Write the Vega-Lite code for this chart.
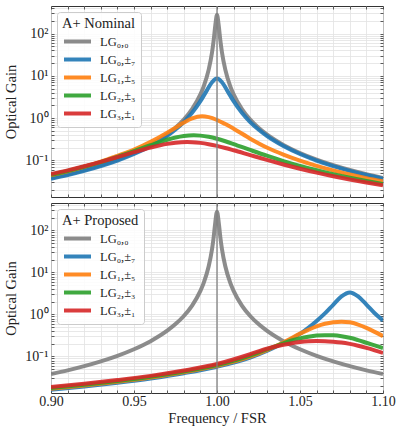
{
  "$schema": "https://vega.github.io/schema/vega-lite/v6.json",
  "padding": {"left": 3, "top": 0, "right": 5, "bottom": 2},
  "background": "white",
  "spacing": 6,
  "bounds": "flush",
  "config": {
    "font": "Liberation Serif",
    "view": {"stroke": "#333333", "strokeWidth": 1},
    "axis": {
      "labelFont": "Liberation Serif", "labelFontSize": 14, "labelColor": "#222222",
      "titleFont": "Liberation Serif", "titleFontSize": 14.5, "titleFontWeight": "normal", "titleColor": "#222222",
      "gridColor": "#e2e2e2", "gridWidth": 0.8, "tickColor": "#333333", "tickWidth": 0.8, "domain": false,
      "labelFlush": false, "labelOverlap": false
    },
    "legend": {
      "orient": "top-left", "offset": 6,
      "titleFont": "Liberation Serif", "titleFontSize": 14.5, "titleFontWeight": "normal", "titleColor": "#222222", "titlePadding": 2,
      "labelFont": "Liberation Serif", "labelFontSize": 12.5, "labelColor": "#222222", "labelOffset": 22,
      "symbolType": "M-1,0H3.5", "symbolSize": 144, "symbolStrokeWidth": 4, "symbolOpacity": 0.9,
      "rowPadding": 2, "padding": 5,
      "fillColor": "rgba(255,255,255,0.85)", "strokeColor": "#cccccc", "cornerRadius": 3
    }
  },
  "datasets": {
    "nom": [
      {"m":"LG₀,₀","f":0.9,"g":0.0381},{"m":"LG₀,₀","f":0.91,"g":0.0467},{"m":"LG₀,₀","f":0.92,"g":0.0588},{"m":"LG₀,₀","f":0.93,"g":0.0764},{"m":"LG₀,₀","f":0.94,"g":0.1035},{"m":"LG₀,₀","f":0.95,"g":0.1485},{"m":"LG₀,₀","f":0.96,"g":0.231},{"m":"LG₀,₀","f":0.97,"g":0.41},{"m":"LG₀,₀","f":0.975,"g":0.589},{"m":"LG₀,₀","f":0.98,"g":0.919},{"m":"LG₀,₀","f":0.985,"g":1.629},{"m":"LG₀,₀","f":0.99,"g":3.64},{"m":"LG₀,₀","f":0.992,"g":5.64},{"m":"LG₀,₀","f":0.995,"g":14.0},{"m":"LG₀,₀","f":0.997,"g":35.7},{"m":"LG₀,₀","f":0.998,"g":69.3},{"m":"LG₀,₀","f":0.999,"g":159},{"m":"LG₀,₀","f":1.0,"g":280},{"m":"LG₀,₀","f":1.001,"g":159},{"m":"LG₀,₀","f":1.002,"g":69.3},{"m":"LG₀,₀","f":1.003,"g":35.7},{"m":"LG₀,₀","f":1.005,"g":14.0},{"m":"LG₀,₀","f":1.008,"g":5.64},{"m":"LG₀,₀","f":1.01,"g":3.64},{"m":"LG₀,₀","f":1.015,"g":1.629},{"m":"LG₀,₀","f":1.02,"g":0.919},{"m":"LG₀,₀","f":1.025,"g":0.589},{"m":"LG₀,₀","f":1.03,"g":0.41},{"m":"LG₀,₀","f":1.04,"g":0.231},{"m":"LG₀,₀","f":1.05,"g":0.1485},{"m":"LG₀,₀","f":1.06,"g":0.1035},{"m":"LG₀,₀","f":1.07,"g":0.0764},{"m":"LG₀,₀","f":1.08,"g":0.0588},{"m":"LG₀,₀","f":1.09,"g":0.0467},{"m":"LG₀,₀","f":1.1,"g":0.0381},
      {"m":"LG₀,±₇","f":0.9,"g":0.0365},{"m":"LG₀,±₇","f":0.91,"g":0.0447},{"m":"LG₀,±₇","f":0.92,"g":0.0562},{"m":"LG₀,±₇","f":0.93,"g":0.0728},{"m":"LG₀,±₇","f":0.94,"g":0.0984},{"m":"LG₀,±₇","f":0.95,"g":0.1405},{"m":"LG₀,±₇","f":0.96,"g":0.217},{"m":"LG₀,±₇","f":0.97,"g":0.377},{"m":"LG₀,±₇","f":0.975,"g":0.533},{"m":"LG₀,±₇","f":0.98,"g":0.804},{"m":"LG₀,±₇","f":0.985,"g":1.331},{"m":"LG₀,±₇","f":0.99,"g":2.51},{"m":"LG₀,±₇","f":0.994,"g":4.59},{"m":"LG₀,±₇","f":0.997,"g":7.06},{"m":"LG₀,±₇","f":1.0,"g":8.6},{"m":"LG₀,±₇","f":1.003,"g":7.06},{"m":"LG₀,±₇","f":1.006,"g":4.59},{"m":"LG₀,±₇","f":1.01,"g":2.51},{"m":"LG₀,±₇","f":1.015,"g":1.331},{"m":"LG₀,±₇","f":1.02,"g":0.804},{"m":"LG₀,±₇","f":1.025,"g":0.533},{"m":"LG₀,±₇","f":1.03,"g":0.377},{"m":"LG₀,±₇","f":1.04,"g":0.217},{"m":"LG₀,±₇","f":1.05,"g":0.1405},{"m":"LG₀,±₇","f":1.06,"g":0.0984},{"m":"LG₀,±₇","f":1.07,"g":0.0728},{"m":"LG₀,±₇","f":1.08,"g":0.0562},{"m":"LG₀,±₇","f":1.09,"g":0.0447},{"m":"LG₀,±₇","f":1.1,"g":0.0365},
      {"m":"LG₁,±₅","f":0.9,"g":0.0443},{"m":"LG₁,±₅","f":0.91,"g":0.055},{"m":"LG₁,±₅","f":0.92,"g":0.0702},{"m":"LG₁,±₅","f":0.93,"g":0.0926},{"m":"LG₁,±₅","f":0.94,"g":0.1274},{"m":"LG₁,±₅","f":0.95,"g":0.178},{"m":"LG₁,±₅","f":0.96,"g":0.273},{"m":"LG₁,±₅","f":0.97,"g":0.45},{"m":"LG₁,±₅","f":0.975,"g":0.59},{"m":"LG₁,±₅","f":0.98,"g":0.78},{"m":"LG₁,±₅","f":0.985,"g":0.98},{"m":"LG₁,±₅","f":0.991,"g":1.1},{"m":"LG₁,±₅","f":0.995,"g":1.05},{"m":"LG₁,±₅","f":1.0,"g":0.9},{"m":"LG₁,±₅","f":1.005,"g":0.72},{"m":"LG₁,±₅","f":1.01,"g":0.56},{"m":"LG₁,±₅","f":1.02,"g":0.325},{"m":"LG₁,±₅","f":1.03,"g":0.2007},{"m":"LG₁,±₅","f":1.04,"g":0.1366},{"m":"LG₁,±₅","f":1.05,"g":0.0983},{"m":"LG₁,±₅","f":1.06,"g":0.0739},{"m":"LG₁,±₅","f":1.07,"g":0.0576},{"m":"LG₁,±₅","f":1.08,"g":0.0461},{"m":"LG₁,±₅","f":1.09,"g":0.0378},{"m":"LG₁,±₅","f":1.1,"g":0.0316},
      {"m":"LG₂,±₃","f":0.9,"g":0.045},{"m":"LG₂,±₃","f":0.91,"g":0.0556},{"m":"LG₂,±₃","f":0.92,"g":0.0701},{"m":"LG₂,±₃","f":0.93,"g":0.0908},{"m":"LG₂,±₃","f":0.94,"g":0.1207},{"m":"LG₂,±₃","f":0.95,"g":0.1645},{"m":"LG₂,±₃","f":0.96,"g":0.2272},{"m":"LG₂,±₃","f":0.97,"g":0.3067},{"m":"LG₂,±₃","f":0.975,"g":0.3456},{"m":"LG₂,±₃","f":0.98,"g":0.3756},{"m":"LG₂,±₃","f":0.986,"g":0.39},{"m":"LG₂,±₃","f":0.99,"g":0.3835},{"m":"LG₂,±₃","f":0.995,"g":0.3591},{"m":"LG₂,±₃","f":1.0,"g":0.3229},{"m":"LG₂,±₃","f":1.005,"g":0.282},{"m":"LG₂,±₃","f":1.01,"g":0.2421},{"m":"LG₂,±₃","f":1.02,"g":0.1754},{"m":"LG₂,±₃","f":1.03,"g":0.1282},{"m":"LG₂,±₃","f":1.04,"g":0.0959},{"m":"LG₂,±₃","f":1.05,"g":0.0737},{"m":"LG₂,±₃","f":1.06,"g":0.0581},{"m":"LG₂,±₃","f":1.07,"g":0.0469},{"m":"LG₂,±₃","f":1.08,"g":0.0386},{"m":"LG₂,±₃","f":1.09,"g":0.0323},{"m":"LG₂,±₃","f":1.1,"g":0.0274},
      {"m":"LG₃,±₁","f":0.9,"g":0.047},{"m":"LG₃,±₁","f":0.91,"g":0.0577},{"m":"LG₃,±₁","f":0.92,"g":0.0722},{"m":"LG₃,±₁","f":0.93,"g":0.092},{"m":"LG₃,±₁","f":0.94,"g":0.1192},{"m":"LG₃,±₁","f":0.95,"g":0.1555},{"m":"LG₃,±₁","f":0.96,"g":0.2002},{"m":"LG₃,±₁","f":0.97,"g":0.2446},{"m":"LG₃,±₁","f":0.975,"g":0.2608},{"m":"LG₃,±₁","f":0.982,"g":0.27},{"m":"LG₃,±₁","f":0.985,"g":0.2683},{"m":"LG₃,±₁","f":0.99,"g":0.2581},{"m":"LG₃,±₁","f":0.995,"g":0.2407},{"m":"LG₃,±₁","f":1.0,"g":0.2189},{"m":"LG₃,±₁","f":1.005,"g":0.1955},{"m":"LG₃,±₁","f":1.01,"g":0.1726},{"m":"LG₃,±₁","f":1.02,"g":0.1325},{"m":"LG₃,±₁","f":1.03,"g":0.1019},{"m":"LG₃,±₁","f":1.04,"g":0.0794},{"m":"LG₃,±₁","f":1.05,"g":0.063},{"m":"LG₃,±₁","f":1.06,"g":0.0509},{"m":"LG₃,±₁","f":1.07,"g":0.0419},{"m":"LG₃,±₁","f":1.08,"g":0.035},{"m":"LG₃,±₁","f":1.09,"g":0.0297},{"m":"LG₃,±₁","f":1.1,"g":0.0255}
    ],
    "prop": [
      {"m":"LG₀,₀","f":0.9,"g":0.0381},{"m":"LG₀,₀","f":0.91,"g":0.0467},{"m":"LG₀,₀","f":0.92,"g":0.0588},{"m":"LG₀,₀","f":0.93,"g":0.0764},{"m":"LG₀,₀","f":0.94,"g":0.1035},{"m":"LG₀,₀","f":0.95,"g":0.1485},{"m":"LG₀,₀","f":0.96,"g":0.231},{"m":"LG₀,₀","f":0.97,"g":0.41},{"m":"LG₀,₀","f":0.975,"g":0.589},{"m":"LG₀,₀","f":0.98,"g":0.919},{"m":"LG₀,₀","f":0.985,"g":1.629},{"m":"LG₀,₀","f":0.99,"g":3.64},{"m":"LG₀,₀","f":0.992,"g":5.64},{"m":"LG₀,₀","f":0.995,"g":14.0},{"m":"LG₀,₀","f":0.997,"g":35.7},{"m":"LG₀,₀","f":0.998,"g":69.3},{"m":"LG₀,₀","f":0.999,"g":159},{"m":"LG₀,₀","f":1.0,"g":280},{"m":"LG₀,₀","f":1.001,"g":159},{"m":"LG₀,₀","f":1.002,"g":69.3},{"m":"LG₀,₀","f":1.003,"g":35.7},{"m":"LG₀,₀","f":1.005,"g":14.0},{"m":"LG₀,₀","f":1.008,"g":5.64},{"m":"LG₀,₀","f":1.01,"g":3.64},{"m":"LG₀,₀","f":1.015,"g":1.629},{"m":"LG₀,₀","f":1.02,"g":0.919},{"m":"LG₀,₀","f":1.025,"g":0.589},{"m":"LG₀,₀","f":1.03,"g":0.41},{"m":"LG₀,₀","f":1.04,"g":0.231},{"m":"LG₀,₀","f":1.05,"g":0.1485},{"m":"LG₀,₀","f":1.06,"g":0.1035},{"m":"LG₀,₀","f":1.07,"g":0.0764},{"m":"LG₀,₀","f":1.08,"g":0.0588},{"m":"LG₀,₀","f":1.09,"g":0.0467},{"m":"LG₀,₀","f":1.1,"g":0.0381},
      {"m":"LG₀,±₇","f":0.9,"g":0.0162},{"m":"LG₀,±₇","f":0.92,"g":0.0193},{"m":"LG₀,±₇","f":0.94,"g":0.0237},{"m":"LG₀,±₇","f":0.96,"g":0.03},{"m":"LG₀,±₇","f":0.98,"g":0.04},{"m":"LG₀,±₇","f":1.0,"g":0.057},{"m":"LG₀,±₇","f":1.02,"g":0.094},{"m":"LG₀,±₇","f":1.03,"g":0.135},{"m":"LG₀,±₇","f":1.04,"g":0.21},{"m":"LG₀,±₇","f":1.045,"g":0.265},{"m":"LG₀,±₇","f":1.05,"g":0.345},{"m":"LG₀,±₇","f":1.055,"g":0.48},{"m":"LG₀,±₇","f":1.06,"g":0.7},{"m":"LG₀,±₇","f":1.065,"g":1.06},{"m":"LG₀,±₇","f":1.07,"g":1.7},{"m":"LG₀,±₇","f":1.075,"g":2.7},{"m":"LG₀,±₇","f":1.08,"g":3.35},{"m":"LG₀,±₇","f":1.085,"g":2.7},{"m":"LG₀,±₇","f":1.09,"g":1.72},{"m":"LG₀,±₇","f":1.095,"g":1.07},{"m":"LG₀,±₇","f":1.1,"g":0.72},
      {"m":"LG₁,±₅","f":0.9,"g":0.017},{"m":"LG₁,±₅","f":0.92,"g":0.0203},{"m":"LG₁,±₅","f":0.94,"g":0.0249},{"m":"LG₁,±₅","f":0.96,"g":0.0315},{"m":"LG₁,±₅","f":0.98,"g":0.042},{"m":"LG₁,±₅","f":1.0,"g":0.06},{"m":"LG₁,±₅","f":1.02,"g":0.099},{"m":"LG₁,±₅","f":1.03,"g":0.142},{"m":"LG₁,±₅","f":1.04,"g":0.215},{"m":"LG₁,±₅","f":1.045,"g":0.275},{"m":"LG₁,±₅","f":1.05,"g":0.35},{"m":"LG₁,±₅","f":1.055,"g":0.43},{"m":"LG₁,±₅","f":1.06,"g":0.52},{"m":"LG₁,±₅","f":1.065,"g":0.6},{"m":"LG₁,±₅","f":1.07,"g":0.655},{"m":"LG₁,±₅","f":1.075,"g":0.675},{"m":"LG₁,±₅","f":1.08,"g":0.65},{"m":"LG₁,±₅","f":1.085,"g":0.575},{"m":"LG₁,±₅","f":1.09,"g":0.48},{"m":"LG₁,±₅","f":1.095,"g":0.385},{"m":"LG₁,±₅","f":1.1,"g":0.305},
      {"m":"LG₂,±₃","f":0.9,"g":0.0177},{"m":"LG₂,±₃","f":0.92,"g":0.0211},{"m":"LG₂,±₃","f":0.94,"g":0.0259},{"m":"LG₂,±₃","f":0.96,"g":0.0328},{"m":"LG₂,±₃","f":0.98,"g":0.044},{"m":"LG₂,±₃","f":1.0,"g":0.0625},{"m":"LG₂,±₃","f":1.02,"g":0.105},{"m":"LG₂,±₃","f":1.03,"g":0.148},{"m":"LG₂,±₃","f":1.04,"g":0.205},{"m":"LG₂,±₃","f":1.045,"g":0.24},{"m":"LG₂,±₃","f":1.05,"g":0.27},{"m":"LG₂,±₃","f":1.055,"g":0.295},{"m":"LG₂,±₃","f":1.06,"g":0.315},{"m":"LG₂,±₃","f":1.065,"g":0.322},{"m":"LG₂,±₃","f":1.07,"g":0.318},{"m":"LG₂,±₃","f":1.075,"g":0.303},{"m":"LG₂,±₃","f":1.08,"g":0.278},{"m":"LG₂,±₃","f":1.085,"g":0.245},{"m":"LG₂,±₃","f":1.09,"g":0.212},{"m":"LG₂,±₃","f":1.095,"g":0.183},{"m":"LG₂,±₃","f":1.1,"g":0.158},
      {"m":"LG₃,±₁","f":0.9,"g":0.0188},{"m":"LG₃,±₁","f":0.92,"g":0.0224},{"m":"LG₃,±₁","f":0.94,"g":0.0274},{"m":"LG₃,±₁","f":0.96,"g":0.0345},{"m":"LG₃,±₁","f":0.98,"g":0.0462},{"m":"LG₃,±₁","f":1.0,"g":0.066},{"m":"LG₃,±₁","f":1.02,"g":0.113},{"m":"LG₃,±₁","f":1.03,"g":0.153},{"m":"LG₃,±₁","f":1.04,"g":0.19},{"m":"LG₃,±₁","f":1.045,"g":0.207},{"m":"LG₃,±₁","f":1.05,"g":0.22},{"m":"LG₃,±₁","f":1.055,"g":0.229},{"m":"LG₃,±₁","f":1.06,"g":0.232},{"m":"LG₃,±₁","f":1.065,"g":0.231},{"m":"LG₃,±₁","f":1.07,"g":0.225},{"m":"LG₃,±₁","f":1.075,"g":0.215},{"m":"LG₃,±₁","f":1.08,"g":0.199},{"m":"LG₃,±₁","f":1.085,"g":0.18},{"m":"LG₃,±₁","f":1.09,"g":0.16},{"m":"LG₃,±₁","f":1.095,"g":0.14},{"m":"LG₃,±₁","f":1.1,"g":0.121}
    ]
  },
  "resolve": {"scale": {"color": "independent", "x": "independent", "y": "independent"}, "legend": {"color": "independent"}},
  "vconcat": [
    {
      "width": 332, "height": 191,
      "layer": [
        {
          "data": {"name": "nom"},
          "mark": {"type": "line", "interpolate": "monotone", "strokeWidth": 4, "opacity": 0.9, "clip": true},
          "encoding": {
            "x": {"field": "f", "type": "quantitative", "scale": {"domain": [0.9, 1.1], "nice": false, "zero": false},
                  "axis": {"orient": "bottom", "values": [0.9,0.91,0.92,0.93,0.94,0.95,0.96,0.97,0.98,0.99,1.0,1.01,1.02,1.03,1.04,1.05,1.06,1.07,1.08,1.09,1.1], "labels": false, "title": null, "grid": true, "tickSize": -3, "minExtent": 0, "maxExtent": 0}},
            "y": {"field": "g", "type": "quantitative", "scale": {"type": "log", "domain": [0.0135, 450], "nice": false},
                  "axis": {"orient": "left", "values": [0.02,0.03,0.04,0.05,0.06,0.07,0.08,0.09,0.1,0.2,0.3,0.4,0.5,0.6,0.7,0.8,0.9,1,2,3,4,5,6,7,8,9,10,20,30,40,50,60,70,80,90,100,200,300,400],
                           "labelExpr": "datum.value == 100 ? '10²' : datum.value == 10 ? '10¹' : datum.value == 1 ? '10⁰' : datum.value == 0.1 ? '10⁻¹' : ''",
                           "grid": true, "tickSize": -3, "labelPadding": 6, "title": "Optical Gain", "titlePadding": 6}},
            "color": {"field": "m", "type": "nominal",
                      "scale": {"domain": ["LG₀,₀","LG₀,±₇","LG₁,±₅","LG₂,±₃","LG₃,±₁"], "range": ["#7f7f7f","#1f77b4","#ff7f0e","#2ca02c","#d62728"]},
                      "legend": {"title": "A+ Nominal"}}
          }
        },
        {
          "data": {"values": [{}]},
          "mark": {"type": "rule", "color": "#808080", "strokeWidth": 1.3},
          "encoding": {"x": {"datum": 1.0, "type": "quantitative", "axis": null}}
        },
        {
          "data": {"name": "nom"},
          "mark": {"type": "point", "opacity": 0},
          "encoding": {
            "x": {"field": "f", "type": "quantitative", "axis": {"orient": "top", "values": [0.9,0.91,0.92,0.93,0.94,0.95,0.96,0.97,0.98,0.99,1.0,1.01,1.02,1.03,1.04,1.05,1.06,1.07,1.08,1.09,1.1], "labels": false, "title": null, "grid": false, "tickSize": -3, "minExtent": 0, "maxExtent": 0}},
            "y": {"field": "g", "type": "quantitative", "axis": {"orient": "right", "values": [0.02,0.03,0.04,0.05,0.06,0.07,0.08,0.09,0.1,0.2,0.3,0.4,0.5,0.6,0.7,0.8,0.9,1,2,3,4,5,6,7,8,9,10,20,30,40,50,60,70,80,90,100,200,300,400], "labels": false, "title": null, "grid": false, "tickSize": -3, "minExtent": 0, "maxExtent": 0}}
          }
        }
      ],
      "resolve": {"axis": {"x": "independent", "y": "independent"}}
    },
    {
      "width": 332, "height": 190,
      "layer": [
        {
          "data": {"name": "prop"},
          "mark": {"type": "line", "interpolate": "monotone", "strokeWidth": 4, "opacity": 0.9, "clip": true},
          "encoding": {
            "x": {"field": "f", "type": "quantitative", "scale": {"domain": [0.9, 1.1], "nice": false, "zero": false},
                  "axis": {"orient": "bottom", "values": [0.9,0.91,0.92,0.93,0.94,0.95,0.96,0.97,0.98,0.99,1.0,1.01,1.02,1.03,1.04,1.05,1.06,1.07,1.08,1.09,1.1],
                           "labelExpr": "round(datum.value*100) % 5 == 0 ? format(datum.value, '.2f') : ''",
                           "title": "Frequency / FSR", "grid": true, "tickSize": -3, "labelPadding": 4, "titlePadding": 3}},
            "y": {"field": "g", "type": "quantitative", "scale": {"type": "log", "domain": [0.0135, 450], "nice": false},
                  "axis": {"orient": "left", "values": [0.02,0.03,0.04,0.05,0.06,0.07,0.08,0.09,0.1,0.2,0.3,0.4,0.5,0.6,0.7,0.8,0.9,1,2,3,4,5,6,7,8,9,10,20,30,40,50,60,70,80,90,100,200,300,400],
                           "labelExpr": "datum.value == 100 ? '10²' : datum.value == 10 ? '10¹' : datum.value == 1 ? '10⁰' : datum.value == 0.1 ? '10⁻¹' : ''",
                           "grid": true, "tickSize": -3, "labelPadding": 6, "title": "Optical Gain", "titlePadding": 6}},
            "color": {"field": "m", "type": "nominal",
                      "scale": {"domain": ["LG₀,₀","LG₀,±₇","LG₁,±₅","LG₂,±₃","LG₃,±₁"], "range": ["#7f7f7f","#1f77b4","#ff7f0e","#2ca02c","#d62728"]},
                      "legend": {"title": "A+ Proposed"}}
          }
        },
        {
          "data": {"values": [{}]},
          "mark": {"type": "rule", "color": "#808080", "strokeWidth": 1.3},
          "encoding": {"x": {"datum": 1.0, "type": "quantitative", "axis": null}}
        },
        {
          "data": {"name": "prop"},
          "mark": {"type": "point", "opacity": 0},
          "encoding": {
            "x": {"field": "f", "type": "quantitative", "axis": {"orient": "top", "values": [0.9,0.91,0.92,0.93,0.94,0.95,0.96,0.97,0.98,0.99,1.0,1.01,1.02,1.03,1.04,1.05,1.06,1.07,1.08,1.09,1.1], "labels": false, "title": null, "grid": false, "tickSize": -3, "minExtent": 0, "maxExtent": 0}},
            "y": {"field": "g", "type": "quantitative", "axis": {"orient": "right", "values": [0.02,0.03,0.04,0.05,0.06,0.07,0.08,0.09,0.1,0.2,0.3,0.4,0.5,0.6,0.7,0.8,0.9,1,2,3,4,5,6,7,8,9,10,20,30,40,50,60,70,80,90,100,200,300,400], "labels": false, "title": null, "grid": false, "tickSize": -3, "minExtent": 0, "maxExtent": 0}}
          }
        }
      ],
      "resolve": {"axis": {"x": "independent", "y": "independent"}}
    }
  ]
}
